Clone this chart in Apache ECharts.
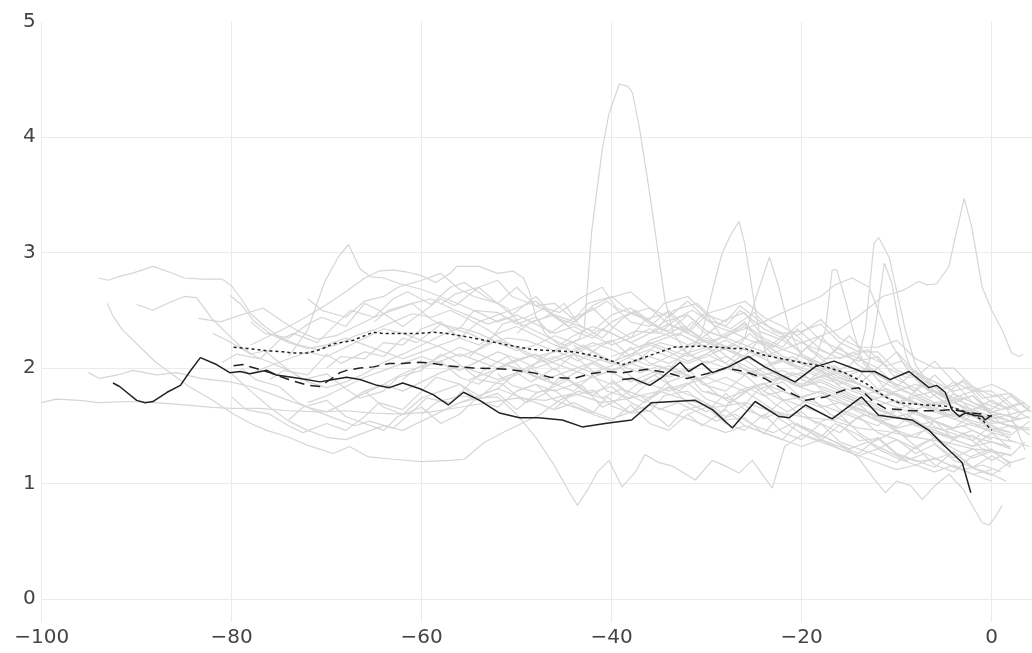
<!DOCTYPE html>
<html>
<head>
<meta charset="utf-8">
<script src="https://cdn.jsdelivr.net/npm/echarts@6.0.0/dist/echarts.min.js"></script>
<style>html,body{margin:0;padding:0;background:#fff}#c{width:1032px;height:653px}</style>
</head>
<body>
<div id="c"></div>
<script>
// ---- tick labels ----
const xTicks = [-100, -80, -60, -40, -20, 0];
const yTicks = [0, 1, 2, 3, 4, 5];

// ---- highlighted (black) series, flat [x, y, x, y, ...] ----
const solidLong = [-92.5,1.87, -91.8,1.84, -90,1.72, -89.1,1.70, -88.3,1.71, -86.8,1.79, -85.4,1.85, -84.4,1.97, -83.3,2.09, -81.6,2.03, -80.2,1.96, -79.1,1.97, -78.1,1.95, -76.3,1.98, -75.3,1.94, -72.8,1.91, -70.7,1.88, -69.3,1.90, -67.9,1.92, -66.5,1.90, -64.7,1.85, -63.4,1.83, -62,1.87, -60.2,1.82, -58.8,1.77, -57.2,1.68, -55.6,1.79, -53.9,1.72, -51.8,1.61, -49.7,1.57, -47.7,1.57, -45.2,1.55, -43.1,1.49, -40.7,1.52, -37.9,1.55, -35.8,1.70, -33.5,1.71, -31.2,1.72, -29.4,1.64, -27.3,1.48, -24.9,1.71, -22.4,1.58, -21.3,1.57, -19.6,1.68, -16.8,1.56, -13.7,1.75, -11.9,1.59, -8.4,1.55, -6.6,1.46, -4.9,1.32, -3.1,1.18, -2.2,0.92];
const solidShort = [-38.9,1.90, -37.8,1.91, -36,1.85, -34.7,1.92, -32.8,2.05, -31.9,1.97, -30.5,2.04, -29.4,1.96, -27.7,2.01, -25.6,2.10, -23.9,2.01, -20.7,1.88, -18.6,2.01, -16.6,2.06, -13.7,1.97, -12.3,1.97, -10.7,1.90, -8.7,1.97, -6.6,1.83, -5.8,1.85, -4.9,1.79, -4.2,1.64, -3.4,1.58, -2.8,1.61, -1.8,1.59, -1.0,1.58, -0.7,1.55, 0,1.59];
const dashedLine = [-79.8,2.02, -78.8,2.03, -76,1.96, -74,1.90, -72,1.85, -70.7,1.84, -68.6,1.96, -67.9,1.98, -66.5,2.00, -65.1,2.01, -63.4,2.04, -62,2.04, -60.2,2.05, -58.8,2.04, -57.4,2.02, -54.6,2.00, -51,1.99, -48.3,1.96, -46.5,1.92, -44,1.91, -42.3,1.95, -40.5,1.97, -38.8,1.96, -36.3,1.99, -34.2,1.96, -32.1,1.91, -30,1.95, -28,2.00, -26,1.97, -23.9,1.91, -21.8,1.81, -19.6,1.72, -17.5,1.75, -15.5,1.81, -14,1.83, -12.6,1.72, -11.2,1.65, -8.4,1.63, -6,1.63, -4.2,1.64, -2.1,1.61, -1,1.60, 0,1.58];
const dottedLine = [-79.8,2.18, -78.4,2.17, -76.3,2.15, -74.6,2.14, -73.5,2.13, -72,2.13, -70.7,2.16, -69.3,2.21, -67.2,2.24, -65.1,2.31, -64.1,2.30, -62.3,2.30, -60.2,2.30, -58.8,2.31, -57.4,2.30, -54.6,2.26, -51,2.20, -48.3,2.16, -44,2.14, -41.5,2.10, -38.8,2.03, -36.3,2.10, -33.5,2.18, -30.7,2.19, -27.2,2.17, -26,2.17, -23.9,2.11, -19.6,2.04, -17.5,2.01, -15.5,1.96, -13.3,1.87, -11.2,1.75, -9.8,1.70, -7,1.68, -4.9,1.67, -3.4,1.64, -2.1,1.60, -1,1.55, 0,1.46];

// ---- background (gray) series, flat [x, y, x, y, ...] ----
const g01 = [-100,1.70, -98.5,1.73, -96,1.72, -94,1.70, -91,1.71, -88,1.70, -85,1.68, -82,1.66, -80,1.65, -77,1.65, -74,1.63, -71,1.62, -68,1.63, -65,1.61, -62,1.60, -59,1.62, -56,1.66, -53,1.70, -50,1.74, -47,1.72, -44,1.78, -41,1.70, -38,1.74, -35,1.80, -32,1.72, -29,1.66, -26,1.70, -23,1.62, -20,1.58, -17,1.55, -14,1.48, -11,1.45, -8,1.40, -5,1.36, -2,1.30, 0,1.28, 2,1.25];
const g02 = [-94,2.78, -93,2.76, -92,2.79, -90.5,2.82, -88.3,2.88, -86.5,2.83, -85,2.78, -83,2.77, -81,2.77, -80,2.71, -79,2.60, -78,2.47, -76.5,2.36, -75,2.27, -73,2.20, -71,2.16, -69,2.20, -67,2.28, -65,2.33, -63,2.40, -61,2.47, -59,2.44, -57,2.50, -55,2.42, -53,2.33, -51,2.22, -49,2.12, -47,2.05, -45,2.12, -43,2.20, -41,2.10, -39,2.02, -37,2.08, -35,2.22, -33,2.18, -31,2.08, -29,2.17, -27,2.05, -25,1.92, -23,1.96, -21,1.86, -19,1.80, -17,1.76, -15,1.68, -13,1.62, -11,1.55, -9,1.60, -7,1.50, -5,1.46, -3,1.50, -1,1.42, 1,1.38, 2.5,1.36];
const g03 = [-93.1,2.56, -92.5,2.45, -91.5,2.33, -90,2.21, -88,2.05, -86,1.93, -84.5,1.84, -82,1.72, -80,1.61, -78,1.52, -76.3,1.46, -74,1.40, -72,1.33, -69.3,1.26, -67.6,1.32, -65.6,1.23, -63,1.21, -60,1.19, -57,1.20, -55.5,1.21, -53.5,1.35, -51.5,1.44, -49.5,1.52, -47.5,1.60, -45.5,1.72, -43.5,1.80, -41,1.74, -39,1.82, -37,1.76, -35,1.64, -33,1.70, -31,1.62, -29,1.54, -27,1.60, -25,1.50, -23,1.44, -21,1.52, -19,1.46, -17,1.38, -15,1.30, -13,1.36, -11,1.28, -9,1.20, -7,1.26, -5,1.18, -3,1.12, -1,1.16, 1,1.10];
const g04 = [-95.1,1.96, -93.9,1.91, -92,1.94, -90.4,1.98, -87.9,1.94, -85.8,1.96, -83.3,1.91, -80.2,1.88, -78,1.84, -76,1.78, -74,1.72, -72,1.66, -70,1.62, -68,1.70, -66,1.78, -64,1.86, -62,1.95, -60,2.02, -58,2.10, -56,2.18, -54,2.12, -52,2.05, -50,2.00, -48,1.92, -46,1.86, -44,1.95, -42,2.04, -40,1.96, -38,1.88, -36,1.95, -34,2.02, -32,1.94, -30,1.86, -28,1.92, -26,1.84, -24,1.76, -22,1.80, -20,1.72, -18,1.66, -16,1.70, -14,1.62, -12,1.55, -10,1.48, -8,1.52, -6,1.44, -4,1.40, -2,1.46, 0,1.38];
const g05 = [-90,2.55, -88.3,2.50, -86.5,2.57, -85,2.62, -83.7,2.61, -82,2.42, -80.5,2.30, -79,2.18, -77.5,2.10, -76,2.05, -74,1.98, -72,1.88, -70,1.83, -68,1.88, -66,1.95, -64,2.05, -62,2.12, -60,2.20, -58,2.28, -56,2.35, -54,2.30, -52,2.22, -50,2.15, -48,2.20, -46,2.28, -44,2.22, -42,2.14, -40,2.05, -38,2.12, -36,2.20, -34,2.14, -32,2.06, -30,2.12, -28,2.04, -26,1.95, -24,2.00, -22,1.92, -20,1.84, -18,1.90, -16,1.82, -14,1.74, -12,1.68, -10,1.72, -8,1.62, -6,1.56, -4,1.60, -2,1.52, 0,1.48, 2,1.44];
const g06 = [-83.5,2.43, -81.2,2.40, -79,2.46, -76.7,2.52, -74.6,2.40, -73,2.32, -71,2.25, -69,2.28, -67,2.36, -65,2.44, -63,2.50, -61,2.56, -59,2.60, -57,2.52, -55,2.45, -53,2.38, -51,2.44, -49,2.36, -47,2.28, -45,2.20, -43,2.26, -41,2.34, -39,2.26, -37,2.18, -35,2.24, -33,2.30, -31,2.22, -29,2.14, -27,2.20, -25,2.12, -23,2.04, -21,2.10, -19,2.00, -17,1.92, -15,1.86, -13,1.78, -11,1.82, -9,1.72, -7,1.66, -5,1.70, -3,1.62, -1,1.58, 1,1.60, 3,1.55];
const g07 = [-80.2,2.63, -79,2.55, -77.7,2.41, -76,2.30, -74,2.22, -72,2.17, -70,2.20, -68,2.26, -66,2.20, -64,2.14, -62,2.08, -60,2.14, -58,2.20, -56,2.26, -54,2.20, -52,2.30, -50,2.36, -48,2.28, -46,2.20, -44,2.14, -42,2.22, -40,2.16, -38,2.08, -36,2.02, -34,2.10, -32,2.18, -30,2.24, -28,2.16, -26,2.08, -24,2.14, -22,2.06, -20,1.98, -18,1.92, -16,1.96, -14,1.86, -12,1.78, -10,1.70, -8,1.76, -6,1.66, -4,1.58, -2,1.62, 0,1.54, 2,1.50, 4,1.48];
const g08 = [-74,2.10, -72,2.33, -70.2,2.75, -68.8,2.96, -67.7,3.07, -66.5,2.86, -65.4,2.79, -64,2.78, -62.3,2.73, -60,2.68, -58,2.62, -56,2.55, -54,2.48, -52,2.40, -50,2.46, -48,2.38, -46,2.30, -44,2.36, -42,2.28, -40,2.20, -38,2.26, -36,2.34, -34,2.28, -32,2.20, -30,2.26, -28,2.18, -26,2.10, -24,2.02, -22,2.08, -20,2.00, -18,1.94, -16,1.88, -14,1.80, -12,1.74, -10,1.78, -8,1.70, -6,1.62, -4,1.56, -2,1.60, 0,1.52];
const g09 = [-78,2.20, -76,2.28, -74,2.36, -72,2.45, -70,2.55, -68,2.66, -66,2.78, -64.5,2.84, -63,2.85, -61.5,2.83, -60,2.80, -58.5,2.74, -57,2.82, -56.3,2.88, -54,2.88, -52,2.82, -50.4,2.84, -49.3,2.78, -48.7,2.67, -48,2.45, -47,2.30, -45.5,2.20, -44,2.28, -42,2.36, -40,2.30, -38,2.22, -36,2.30, -34,2.38, -32,2.30, -30,2.22, -28,2.28, -26,2.36, -24,2.24, -22,2.16, -20,2.10, -18,2.02, -16,1.94, -14,1.86, -12,1.80, -10,1.70, -8,1.64, -6,1.70, -4,1.60, -2,1.54, 0,1.50];
const g10 = [-78,1.95, -76,2.02, -74,2.08, -72,2.14, -70,2.10, -68,2.18, -66,2.26, -64,2.34, -62,2.30, -60,2.24, -58,2.18, -56,2.10, -54,2.16, -52,2.24, -50,2.18, -48,2.10, -46,2.14, -44.5,2.20, -43.5,2.25, -42.9,2.33, -42.1,3.19, -41,3.89, -40.3,4.20, -39.2,4.46, -38.3,4.44, -37.8,4.38, -37.1,4.09, -36,3.51, -35,2.93, -34.4,2.59, -33.5,2.30, -32,2.12, -30,2.04, -28,2.10, -26,2.02, -24,1.94, -22,1.98, -20,1.90, -18,1.84, -16,1.78, -14,1.70, -12,1.64, -10,1.58, -8,1.62, -6,1.54, -4,1.48, -2,1.52, 0,1.44, 2,1.40];
const g11 = [-72,1.70, -70,1.76, -68,1.84, -66,1.92, -64,1.98, -62,2.04, -60,2.10, -58,2.04, -56,1.98, -54,2.06, -52,2.14, -50,2.08, -48,2.00, -46,2.06, -44,2.12, -42,2.06, -40,1.98, -38,2.04, -36,2.10, -34,2.04, -32,2.12, -30.5,2.30, -29.4,2.67, -28.4,2.99, -27.5,3.15, -26.6,3.27, -26,3.08, -25.2,2.67, -24.5,2.33, -23.5,2.05, -22,1.92, -20,1.84, -18,1.88, -16,1.80, -14,1.72, -12,1.66, -10,1.58, -8,1.50, -6,1.54, -4,1.46, -2,1.40, 0,1.36, 2,1.32];
const g12 = [-66,1.80, -64,1.86, -62,1.80, -60,1.88, -58,1.96, -56,2.02, -54,1.96, -52,1.90, -50,1.96, -48,2.04, -46,2.10, -44,2.02, -42,1.96, -40,2.02, -38,2.10, -36,2.16, -34,2.10, -32,2.04, -30,2.10, -28,2.18, -26,2.26, -24.9,2.59, -23.4,2.96, -22.4,2.70, -21.3,2.33, -20,2.10, -18,2.00, -16,1.92, -14,1.86, -12,1.78, -10,1.70, -8,1.74, -6,1.64, -4,1.56, -2,1.50, 0,1.46, 2,1.50, 4,1.46];
const g13 = [-60,2.00, -58,2.06, -56,2.12, -54,2.06, -52,2.00, -50,2.06, -48,2.12, -46,2.04, -44,1.98, -42,1.92, -40,1.98, -38,2.04, -36,1.98, -34,1.92, -32,1.98, -30,2.06, -28,2.00, -26,1.94, -24,2.00, -22,2.06, -20,2.00, -18.5,2.10, -17.5,2.33, -16.8,2.85, -16.3,2.85, -15.4,2.59, -14.5,2.30, -13.5,2.04, -12,1.90, -10,1.82, -8,1.76, -6,1.80, -4,1.70, -2,1.64, 0,1.58, 2,1.54, 4,1.58];
const g14 = [-55,1.90, -53,1.96, -51,2.02, -49,1.96, -47,1.90, -45,1.96, -43,2.02, -41,2.08, -39,2.02, -37,1.96, -35,2.02, -33,1.96, -31,1.90, -29,1.96, -27,2.02, -25,1.96, -23,1.90, -21,1.96, -19,1.90, -17,1.96, -15,2.02, -14,2.10, -13.3,2.33, -12.4,3.08, -11.9,3.13, -10.8,2.96, -9.8,2.59, -9.1,2.33, -8,2.02, -6.5,1.86, -5,1.78, -3,1.70, -1,1.64, 1,1.60, 3,1.56];
const g15 = [-50,1.80, -48,1.86, -46,1.80, -44,1.86, -42,1.92, -40,1.86, -38,1.92, -36,1.86, -34,1.80, -32,1.86, -30,1.92, -28,1.86, -26,1.80, -24,1.86, -22,1.92, -20,1.86, -18,1.92, -16,1.86, -14,1.92, -13,2.02, -12.3,2.33, -11.3,2.91, -10.5,2.73, -9.8,2.40, -9,2.10, -8,1.90, -6,1.76, -4,1.66, -2,1.60, 0,1.50, 2,1.44];
const g16 = [-40,2.10, -38,2.16, -36,2.22, -34,2.16, -32,2.10, -30,2.16, -28,2.24, -26,2.16, -24,2.10, -22,2.16, -20,2.22, -18,2.28, -16,2.34, -14,2.45, -12.5,2.55, -11.5,2.62, -9.4,2.67, -7.7,2.75, -6.8,2.72, -5.8,2.73, -4.5,2.88, -3.9,3.11, -2.9,3.47, -2.1,3.22, -1,2.70, 0,2.50, 1.1,2.33, 2.1,2.13, 2.9,2.10, 3.3,2.12];
const g17 = [-30,2.20, -28,2.28, -26,2.34, -24,2.40, -22,2.48, -20,2.55, -18,2.62, -16.5,2.72, -14.7,2.78, -12.9,2.70, -11.8,2.47, -10.5,2.20, -9,2.00, -7,1.84, -5,1.74, -3,1.66, -1,1.58, 1,1.52, 3,1.46];
const g18 = [-56,1.70, -54,1.74, -52,1.75, -50,1.60, -48,1.40, -46,1.15, -44.5,0.93, -43.6,0.81, -42.5,0.95, -41.5,1.10, -40.3,1.20, -38.9,0.97, -37.5,1.10, -36.5,1.25, -35,1.18, -33.6,1.15, -31.2,1.03, -29.4,1.20, -28,1.15, -26.6,1.09, -25.2,1.20, -23.1,0.96, -21.8,1.32, -20,1.42, -18,1.36, -16,1.30, -14,1.24, -12,1.30, -10,1.22, -8,1.16, -6,1.22, -4,1.14, -2,1.08, 0,1.12];
const g19 = [-20,1.50, -18,1.42, -16,1.34, -14,1.22, -12.5,1.05, -11.2,0.92, -10,1.02, -8.5,0.98, -7.3,0.86, -6,0.98, -4.5,1.08, -3,0.95, -2,0.80, -1,0.66, -0.3,0.64, 0.3,0.70, 1.1,0.81];
const g20 = [-30,1.80, -28,1.74, -26,1.80, -24,1.86, -22,1.80, -20,1.74, -18,1.80, -16,1.74, -14,1.68, -12,1.74, -10,1.80, -8,1.86, -6,1.80, -4,1.74, -2,1.80, 0,1.86, 1.5,1.80, 3,1.70, 4.2,1.62];
const g21 = [-20,1.70, -18,1.76, -16,1.70, -14,1.64, -12,1.58, -10,1.64, -8,1.70, -6,1.64, -4,1.58, -2,1.64, 0,1.72, 1.5,1.66, 2.5,1.50, 3.5,1.29];
const g22 = [-82,2.30, -80.5,2.24, -78,2.12, -76.5,2.15, -74,1.98, -72.5,1.90, -70,1.95, -68,1.82, -66.5,1.74, -64,1.80, -62.5,1.92, -60,1.98, -58,2.12, -56.5,2.06, -54,1.90, -51.5,1.86, -49,1.70, -47,1.78, -45.5,1.92, -43,1.84, -41,1.66, -39.5,1.72, -37,1.88, -35,1.96, -33.5,1.82, -31,1.74, -28.5,1.62, -26,1.80, -24.5,1.72, -22,1.58, -20,1.62, -18.5,1.52, -16,1.60, -14,1.44, -12.5,1.36, -10,1.46, -8,1.32, -6.5,1.38, -4,1.22, -2,1.30, 0,1.20, 1.5,1.26];
const g23 = [-81,2.05, -79.5,2.12, -77,2.08, -75,2.24, -73.5,2.30, -71,2.22, -69,2.38, -67.5,2.50, -65,2.44, -63,2.60, -61.5,2.66, -59,2.55, -57,2.70, -55.5,2.74, -53,2.60, -51,2.52, -49.5,2.36, -47,2.44, -45,2.56, -43.5,2.38, -41,2.26, -39,2.42, -37.5,2.50, -35,2.34, -33,2.28, -31.5,2.40, -29,2.22, -27,2.16, -25.5,2.30, -23,2.12, -21,2.04, -19.5,2.18, -17,2.02, -15,1.94, -13,2.00, -11,1.80, -9,1.72, -7.5,1.86, -5,1.70, -3,1.62, -1,1.66, 1,1.52, 3,1.48];
const g24 = [-80,1.75, -78.5,1.64, -76,1.60, -74,1.50, -72.5,1.44, -70,1.52, -68,1.46, -66,1.58, -64.5,1.70, -62,1.64, -60,1.80, -58.5,1.92, -56,1.86, -54,1.76, -52,1.82, -50,1.96, -48.5,1.88, -46,2.00, -44,1.86, -42.5,1.78, -40,1.84, -38,1.70, -36,1.62, -34.5,1.76, -32,1.80, -30,1.66, -28,1.58, -26,1.68, -24,1.56, -22.5,1.62, -20,1.48, -18,1.40, -16.5,1.52, -14,1.42, -12,1.30, -10,1.38, -8,1.26, -6,1.34, -4,1.20, -2,1.14, 0,1.24, 2,1.14];
const g25 = [-79,2.00, -77.5,1.90, -75,1.84, -73,1.70, -71.5,1.64, -69,1.56, -67,1.50, -65.5,1.54, -63,1.48, -61,1.62, -59.5,1.74, -57,1.70, -55,1.86, -53.5,1.98, -51,2.10, -49,1.96, -47.5,2.08, -45,2.20, -43,2.04, -41.5,1.94, -39,2.00, -37,1.86, -35.5,1.94, -33,1.80, -31,1.92, -29,1.78, -27.5,1.70, -25,1.84, -23,1.70, -21.5,1.62, -19,1.74, -17,1.60, -15,1.52, -13.5,1.60, -11,1.50, -9,1.40, -7,1.46, -5,1.32, -3,1.44, -1,1.30, 1,1.26];
const g26 = [-78,2.40, -76.5,2.30, -74,2.26, -72,2.38, -70.5,2.44, -68,2.36, -66,2.56, -64.5,2.50, -62,2.36, -60,2.48, -58,2.60, -56.5,2.54, -54,2.70, -52,2.56, -50.5,2.46, -48,2.62, -46,2.44, -44.5,2.36, -42,2.52, -40,2.36, -38,2.26, -36.5,2.42, -34,2.48, -32,2.30, -30,2.46, -28.5,2.28, -26,2.38, -24,2.26, -22,2.18, -20.5,2.34, -18,2.16, -16,2.08, -14.5,2.14, -12,1.94, -10,1.84, -8,1.98, -6,1.80, -4,1.72, -2,1.76, 0,1.62, 2,1.58];
const g27 = [-76,1.90, -74.5,1.98, -72,1.94, -70,2.12, -68.5,2.04, -66,2.14, -64,2.10, -62,2.26, -60.5,2.22, -58,2.38, -56,2.34, -54.5,2.50, -52,2.48, -50,2.38, -48,2.44, -46.5,2.30, -44,2.44, -42,2.50, -40.5,2.58, -38,2.40, -36,2.36, -34,2.50, -32,2.34, -30.5,2.26, -28,2.42, -26,2.48, -24.5,2.32, -22,2.24, -20,2.14, -18,2.28, -16.5,2.14, -14,2.06, -12,2.10, -10,1.90, -8,1.82, -6.5,1.74, -4,1.88, -2,1.70, 0,1.62, 2,1.66, 4,1.56];
const g28 = [-74,1.55, -72.5,1.66, -70,1.72, -68,1.58, -66,1.52, -64,1.46, -62.5,1.58, -60,1.66, -58,1.52, -56,1.60, -54.5,1.72, -52,1.78, -50,1.64, -48,1.78, -46,1.84, -44.5,1.90, -42,1.76, -40,1.88, -38,1.76, -36.5,1.70, -34,1.84, -32,1.70, -30,1.62, -28,1.78, -26,1.64, -24,1.58, -22,1.72, -20,1.58, -18,1.52, -16,1.44, -14,1.58, -12,1.44, -10,1.38, -8,1.30, -6,1.40, -4,1.30, -2,1.22, 0,1.28, 2,1.18, 3.5,1.22];
const g29 = [-72,2.60, -70.5,2.50, -68,2.44, -66,2.58, -64,2.62, -62.5,2.70, -60,2.76, -58,2.82, -56,2.68, -54.5,2.62, -52,2.56, -50,2.70, -48,2.54, -46,2.46, -44,2.40, -42,2.54, -40.5,2.60, -38,2.66, -36,2.52, -34,2.44, -32,2.58, -30,2.42, -28,2.36, -26.5,2.50, -24,2.34, -22,2.26, -20,2.40, -18,2.24, -16,2.16, -14,2.08, -12,2.00, -10,2.14, -8,1.96, -6,1.88, -4,1.80, -2,1.84, 0,1.70, 2,1.64];
const g30 = [-70,2.00, -68.5,2.10, -66,2.08, -64,2.22, -62,2.20, -60,2.34, -58,2.40, -56,2.26, -54,2.40, -52,2.46, -50,2.52, -48,2.58, -46,2.44, -44,2.38, -42,2.32, -40,2.46, -38,2.52, -36,2.38, -34,2.32, -32,2.46, -30,2.32, -28,2.26, -26,2.20, -24,2.14, -22,2.28, -20,2.12, -18,2.04, -16,1.96, -14,1.98, -12,1.82, -10,1.76, -8,1.70, -6,1.64, -4,1.78, -2,1.62, 0,1.56, 2,1.60, 4,1.64];
const g31 = [-68,1.70, -66,1.80, -64,1.66, -62,1.60, -60,1.74, -58,1.80, -56,1.86, -54,1.72, -52,1.66, -50,1.80, -48,1.86, -46,1.72, -44,1.66, -42,1.60, -40,1.54, -38,1.68, -36,1.52, -34,1.46, -32,1.60, -30,1.66, -28,1.52, -26,1.46, -24,1.60, -22,1.44, -20,1.38, -18,1.52, -16,1.36, -14,1.30, -12,1.24, -10,1.18, -8,1.32, -6,1.16, -4,1.10, -2,1.24, 0,1.30, 2,1.16];
const g32 = [-65,2.40, -63.5,2.50, -61,2.56, -59,2.42, -57.5,2.36, -55,2.30, -53,2.22, -51.5,2.38, -49,2.44, -47,2.52, -45.5,2.48, -43,2.62, -41,2.70, -39.5,2.52, -37,2.44, -35,2.36, -33.5,2.50, -31,2.56, -29,2.40, -27.5,2.34, -25,2.48, -23,2.32, -21,2.26, -19.5,2.20, -17,2.12, -15,2.28, -13,2.10, -11,2.02, -9.5,2.06, -7,1.88, -5,1.82, -3,1.88, -1,1.70, 1,1.64, 3,1.70];
const g33 = [-62,1.90, -60.5,2.00, -58,2.06, -56,1.92, -54,1.86, -52,2.00, -50.5,2.06, -48,2.12, -46,1.98, -44,2.12, -42.5,2.18, -40,2.24, -38,2.10, -36,2.24, -34,2.30, -32.5,2.36, -30,2.22, -28,2.16, -26,2.10, -24.5,2.24, -22,2.10, -20,2.04, -18,1.98, -16.5,2.02, -14,1.86, -12,1.80, -10,1.94, -8,1.78, -6,1.70, -4,1.72, -2,1.58, 0,1.52, 2,1.54, 4,1.42];
const g34 = [-60,1.60, -58.5,1.70, -56,1.76, -54,1.74, -52,1.88, -50,1.94, -48.5,2.00, -46,1.86, -44,1.80, -42,1.94, -40.5,1.80, -38,1.74, -36,1.88, -34,1.94, -32,2.00, -30.5,1.86, -28,1.80, -26,1.94, -24,1.80, -22,1.72, -20.5,1.74, -18,1.80, -16,1.64, -14,1.58, -12.5,1.60, -10,1.46, -8,1.40, -6,1.54, -4,1.38, -2,1.32, 0,1.36, 2,1.30];
const g35 = [-58,2.55, -56.5,2.64, -54,2.70, -52,2.76, -50.5,2.62, -48,2.54, -46,2.56, -44,2.42, -42.5,2.56, -40,2.62, -38,2.48, -36,2.42, -34.5,2.56, -32,2.62, -30,2.46, -28,2.40, -26.5,2.54, -24,2.38, -22,2.30, -20,2.32, -18,2.38, -16,2.22, -14,2.14, -12,2.14, -10,1.98, -8,1.92, -6,2.06, -4,1.88, -2,1.80, 0,1.80, 2,1.66, 3.5,1.70];
const g36 = [-55,2.10, -53.5,2.20, -51,2.26, -49,2.24, -47,2.18, -45,2.12, -43.5,2.06, -41,2.20, -39,2.26, -37.5,2.32, -35,2.30, -33,2.44, -31.5,2.50, -29,2.36, -27,2.30, -25.5,2.24, -23,2.18, -21,2.32, -19,2.16, -17.5,2.08, -15,2.10, -13,2.16, -11,2.00, -9,1.92, -7,1.92, -5,1.76, -3,1.90, -1,1.74, 1,1.76, 3,1.62];
const g37 = [-52,1.95, -50.5,1.85, -48,1.79, -46,1.81, -44,1.67, -42,1.61, -40.5,1.75, -38,1.61, -36,1.63, -34,1.49, -32.5,1.63, -30,1.69, -28,1.55, -26,1.57, -24,1.43, -22.5,1.57, -20,1.43, -18,1.37, -16,1.51, -14,1.37, -12,1.39, -10,1.25, -8,1.19, -6,1.21, -4,1.27, -2,1.13, 0,1.07, 2,1.19];
const g38 = [-50,2.30, -48.5,2.40, -46,2.46, -44,2.32, -42,2.26, -40,2.40, -38.5,2.46, -36,2.52, -34,2.38, -32,2.32, -30.5,2.46, -28,2.52, -26,2.58, -24,2.44, -22,2.36, -20.5,2.28, -18,2.42, -16,2.26, -14,2.18, -12,2.18, -10,2.24, -8,2.08, -6,2.00, -4,2.00, -2,1.84, 0,1.76, 2,1.78, 4,1.66];
const g39 = [-46,1.65, -44.5,1.75, -42,1.81, -40,1.67, -38,1.61, -36,1.75, -34.5,1.81, -32,1.87, -30,1.73, -28,1.67, -26.5,1.81, -24,1.87, -22,1.73, -20,1.67, -18,1.61, -16.5,1.55, -14,1.69, -12,1.55, -10,1.49, -8,1.63, -6,1.49, -4,1.43, -2,1.37, 0,1.51, 2,1.37, 4,1.32];
const g40 = [-44,2.20, -42.5,2.10, -40,2.04, -38,2.18, -36,2.04, -34,1.98, -32.5,2.12, -30,2.18, -28,2.04, -26,2.18, -24.5,2.24, -22,2.10, -20,2.04, -18,1.98, -16.5,1.92, -14,1.86, -12,2.00, -10,1.84, -8,1.76, -6,1.68, -4,1.70, -2,1.76, 0,1.60, 2,1.54, 4,1.66];
const g41 = [-40,1.90, -38.5,1.80, -36,1.74, -34,1.88, -32,1.94, -30.5,1.80, -28,1.74, -26,1.68, -24.5,1.82, -22,1.88, -20,1.74, -18,1.68, -16,1.62, -14,1.56, -12,1.50, -10,1.64, -8,1.50, -6,1.44, -4,1.38, -2,1.32, 0,1.44, 2,1.30];
const g42 = [-36,2.30, -34.5,2.40, -32,2.46, -30,2.32, -28,2.26, -26,2.40, -24.5,2.24, -22,2.16, -20,2.10, -18,2.04, -16,2.18, -14,2.02, -12,1.94, -10,1.86, -8,1.80, -6,1.94, -4,1.78, -2,1.70, 0,1.64, 2,1.76, 4,1.62];
const g43 = [-32,1.60, -30.5,1.50, -28,1.64, -26,1.50, -24,1.44, -22,1.38, -20.5,1.52, -18,1.38, -16,1.32, -14,1.26, -12,1.40, -10,1.26, -8,1.20, -6,1.14, -4,1.28, -2,1.14, 0,1.08, 1.5,1.02];
const g44 = [-28,2.00, -26.5,2.10, -24,1.96, -22,1.90, -20,1.84, -18,1.98, -16,1.84, -14,1.78, -12,1.72, -10,1.66, -8,1.60, -6,1.54, -4,1.48, -2,1.60, 0,1.46, 2,1.42, 4,1.54];
const g45 = [-24,1.80, -22.5,1.90, -20,1.96, -18,1.82, -16,1.76, -14,1.70, -12,1.64, -10,1.58, -8,1.52, -6,1.46, -4,1.40, -2,1.42, 0,1.28, 2,1.24, 3.5,1.36];
const g46 = [-80,1.95, -78,1.80, -76,1.66, -74,1.54, -72,1.46, -70,1.40, -68,1.38, -66,1.44, -64,1.50, -62,1.46, -60,1.54, -58,1.62, -56,1.70, -54,1.76, -52,1.82, -50,1.76, -48,1.70, -46,1.64, -44,1.70, -42,1.62, -40,1.56, -38,1.62, -36,1.68, -34,1.62, -32,1.56, -30,1.50, -28,1.44, -26,1.50, -24,1.44, -22,1.38, -20,1.32, -18,1.38, -16,1.30, -14,1.24, -12,1.18, -10,1.12, -8,1.16, -6,1.10, -4,1.16, -2,1.08, 0,1.02];

const grayLines = [g01,g02,g03,g04,g05,g06,g07,g08,g09,g10,g11,g12,g13,g14,g15,g16,g17,g18,g19,g20,g21,g22,g23,g24,g25,g26,g27,g28,g29,g30,g31,g32,g33,g34,g35,g36,g37,g38,g39,g40,g41,g42,g43,g44,g45,g46];

function pairs(flat) {
  const out = [];
  for (let i = 0; i < flat.length; i += 2) out.push([flat[i], flat[i + 1]]);
  return out;
}
function fmt(v) { return v < 0 ? '\u2212' + Math.abs(v) : String(v); }

const series = [];
grayLines.forEach(function (g) {
  series.push({
    type: 'line', data: pairs(g), showSymbol: false, silent: true,
    lineStyle: { color: '#d6d6d6', width: 1.2 }, z: 2
  });
});
const blackStyle = { color: '#222222', width: 1.5 };
series.push({ type: 'line', data: pairs(solidLong), showSymbol: false, silent: true, lineStyle: Object.assign({}, blackStyle), z: 5 });
series.push({ type: 'line', data: pairs(solidShort), showSymbol: false, silent: true, lineStyle: Object.assign({}, blackStyle), z: 5 });
series.push({ type: 'line', data: pairs(dashedLine), showSymbol: false, silent: true, lineStyle: Object.assign({ type: [10, 6] }, blackStyle), z: 5 });
series.push({ type: 'line', data: pairs(dottedLine), showSymbol: false, silent: true, lineStyle: Object.assign({ type: [3, 3] }, blackStyle), z: 5 });

const chart = echarts.init(document.getElementById('c'), null, { renderer: 'canvas' });
chart.setOption({
  animation: false,
  backgroundColor: '#ffffff',
  grid: { left: 41.7, right: 0, top: 21.7, bottom: 31, containLabel: false },
  xAxis: {
    type: 'value', min: -100, max: 4.24,
    axisLine: { show: false },
    axisTick: { show: false, customValues: xTicks },
    axisLabel: { customValues: xTicks, formatter: fmt, color: '#444', fontFamily: 'DejaVu Sans', fontSize: 20, margin: 6 },
    splitLine: { show: true, lineStyle: { color: '#ebebeb', width: 1 } }
  },
  yAxis: {
    type: 'value', min: -0.2, max: 5,
    axisLine: { show: false },
    axisTick: { show: false, customValues: [0, 1, 2, 3, 4] },
    axisLabel: { customValues: yTicks, formatter: fmt, color: '#444', fontFamily: 'DejaVu Sans', fontSize: 20, margin: 6 },
    splitLine: { show: true, lineStyle: { color: '#ebebeb', width: 1 } }
  },
  series: series
});
</script>
</body>
</html>
